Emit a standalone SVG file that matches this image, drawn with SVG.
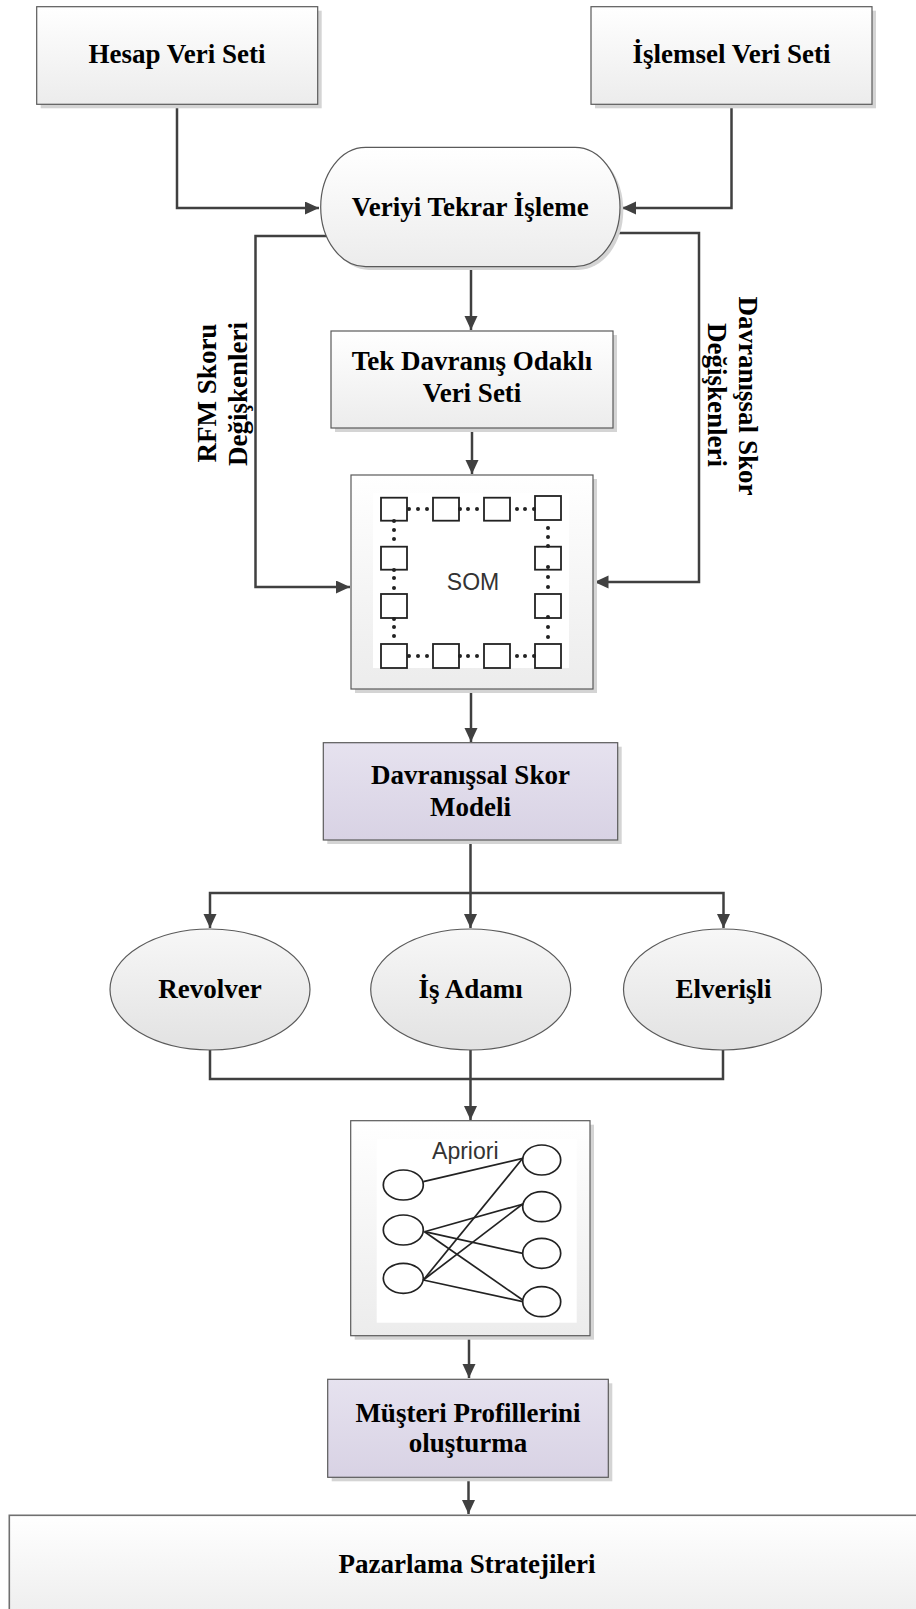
<svg xmlns="http://www.w3.org/2000/svg" width="916" height="1609" viewBox="0 0 916 1609">
<defs>
<linearGradient id="gGrey" x1="0" y1="0" x2="0" y2="1"><stop offset="0" stop-color="#ffffff"/><stop offset="1" stop-color="#ececec"/></linearGradient>
<linearGradient id="gEll" x1="0" y1="0" x2="0" y2="1"><stop offset="0" stop-color="#f7f7f7"/><stop offset="1" stop-color="#e2e2e2"/></linearGradient>
<linearGradient id="gPurple" x1="0" y1="0" x2="0" y2="1"><stop offset="0" stop-color="#e6e2ef"/><stop offset="1" stop-color="#d8d2e4"/></linearGradient>
<marker id="arr" markerWidth="15" markerHeight="14" refX="14" refY="6.5" orient="auto" markerUnits="userSpaceOnUse"><path d="M0,0 L14,6.5 L0,13 z" fill="#404040"/></marker>
<style>
.lbl{font-family:"Liberation Serif","Times New Roman",serif;font-weight:bold;font-size:27px;fill:#000;text-anchor:middle}
.sans{font-family:"Liberation Sans",Arial,sans-serif;font-size:23px;fill:#333;text-anchor:middle}
.box{fill:url(#gGrey);stroke:#5a5a5a;stroke-width:1.2}
.pbox{fill:url(#gPurple);stroke:#5a5a5a;stroke-width:1.2}
.ell{fill:url(#gEll);stroke:#5a5a5a;stroke-width:1.2}
.sh{fill:#d4d4d4}
.con{fill:none;stroke:#404040;stroke-width:2.5}
.sq{fill:none;stroke:#222;stroke-width:1.8}
.dot{fill:#222}
.ln{stroke:#222;stroke-width:1.7;fill:none}
.cir{fill:none;stroke:#222;stroke-width:1.7}
</style>
</defs>

<g id="connectors">
<path class="con" d="M177,104 V208 H319" marker-end="url(#arr)"/>
<path class="con" d="M731.5,104 V208 H622" marker-end="url(#arr)"/>
<path class="con" d="M332,236 H255.5 V587 H350" marker-end="url(#arr)"/>
<path class="con" d="M614,233 H699 V582 H594.5" marker-end="url(#arr)"/>
<path class="con" d="M471,267 V330" marker-end="url(#arr)"/>
<path class="con" d="M472,428 V474" marker-end="url(#arr)"/>
<path class="con" d="M471,689 V742" marker-end="url(#arr)"/>
<path class="con" d="M470.5,840 V928" marker-end="url(#arr)"/>
<path class="con" d="M470.5,893 H210 V928" marker-end="url(#arr)"/>
<path class="con" d="M470.5,893 H723.5 V928" marker-end="url(#arr)"/>
<path class="con" d="M210,1050 V1079 H723 V1050"/>
<path class="con" d="M470.5,1050 V1120" marker-end="url(#arr)"/>
<path class="con" d="M469,1336 V1378" marker-end="url(#arr)"/>
<path class="con" d="M468.5,1477 V1514" marker-end="url(#arr)"/>
</g>

<g id="hesap">
<rect class="sh" x="40.7" y="10.7" width="281" height="97.6"/>
<rect class="box" x="36.7" y="6.7" width="281" height="97.6"/>
<text class="lbl" x="177" y="63.3">Hesap Veri Seti</text>
</g>

<g id="islemsel">
<rect class="sh" x="595" y="10.7" width="281" height="97.6"/>
<rect class="box" x="591" y="6.7" width="281" height="97.6"/>
<text class="lbl" x="731.5" y="63.3">İşlemsel Veri Seti</text>
</g>

<g id="veriyi">
<rect class="sh" x="324" y="150.5" width="299.3" height="119.4" rx="45" ry="59.7"/>
<rect class="box" x="320.7" y="147.3" width="299.3" height="119.4" rx="45" ry="59.7"/>
<text class="lbl" x="470.3" y="216">Veriyi Tekrar İşleme</text>
</g>

<g id="rfm-label">
<text class="lbl" transform="translate(216,393) rotate(-90)">RFM Skoru</text>
<text class="lbl" transform="translate(247,394) rotate(-90)">Değişkenleri</text>
</g>

<g id="davranissal-label">
<text class="lbl" transform="translate(739,396) rotate(90)">Davranışsal Skor</text>
<text class="lbl" transform="translate(708,395) rotate(90)">Değişkenleri</text>
</g>

<g id="tek">
<rect class="sh" x="335" y="335" width="282" height="97"/>
<rect class="box" x="331" y="331" width="282" height="97"/>
<text class="lbl" x="472" y="370">Tek Davranış Odaklı</text>
<text class="lbl" x="472" y="402">Veri Seti</text>
</g>

<g id="som">
<rect class="sh" x="355" y="479" width="242" height="214"/>
<rect class="box" x="351" y="475" width="242" height="214"/>
<rect x="373" y="493" width="196" height="175" fill="#ffffff"/>
<rect class="sq" x="381" y="497.7" width="26" height="23"/>
<rect class="sq" x="433" y="497.7" width="26" height="23"/>
<rect class="sq" x="484" y="497.7" width="26" height="23"/>
<rect class="sq" x="535" y="496" width="26" height="24"/>
<rect class="sq" x="381" y="546.7" width="26" height="23"/>
<rect class="sq" x="535" y="546.7" width="26" height="23"/>
<rect class="sq" x="381" y="594" width="26" height="24"/>
<rect class="sq" x="535" y="594" width="26" height="24"/>
<rect class="sq" x="381" y="644" width="26" height="24"/>
<rect class="sq" x="433" y="644" width="26" height="24"/>
<rect class="sq" x="484" y="644" width="26" height="24"/>
<rect class="sq" x="535" y="644" width="26" height="24"/>
<g class="dot">
<circle cx="409" cy="509" r="2"/><circle cx="418" cy="509" r="2"/><circle cx="427" cy="509" r="2"/>
<circle cx="460" cy="509" r="2"/><circle cx="468" cy="509" r="2"/><circle cx="477" cy="509" r="2"/>
<circle cx="517" cy="509" r="2"/><circle cx="525" cy="509" r="2"/><circle cx="534" cy="509" r="2"/>
<circle cx="409" cy="656" r="2"/><circle cx="418" cy="656" r="2"/><circle cx="427" cy="656" r="2"/>
<circle cx="460" cy="656" r="2"/><circle cx="468" cy="656" r="2"/><circle cx="477" cy="656" r="2"/>
<circle cx="517" cy="656" r="2"/><circle cx="525" cy="656" r="2"/><circle cx="534" cy="656" r="2"/>
<circle cx="394" cy="521" r="2"/><circle cx="394" cy="530" r="2"/><circle cx="394" cy="539" r="2"/>
<circle cx="394" cy="570" r="2"/><circle cx="394" cy="578" r="2"/><circle cx="394" cy="588" r="2"/>
<circle cx="394" cy="619" r="2"/><circle cx="394" cy="627" r="2"/><circle cx="394" cy="636" r="2"/>
<circle cx="548" cy="528" r="2"/><circle cx="548" cy="537" r="2"/><circle cx="548" cy="546" r="2"/>
<circle cx="548" cy="567" r="2"/><circle cx="548" cy="577" r="2"/><circle cx="548" cy="587" r="2"/>
<circle cx="548" cy="617" r="2"/><circle cx="548" cy="627" r="2"/><circle cx="548" cy="637" r="2"/>
</g>
<text class="sans" x="473" y="590">SOM</text>
</g>

<g id="davranissal-skor">
<rect class="sh" x="327.3" y="746.7" width="294.4" height="97.3"/>
<rect class="pbox" x="323.3" y="742.7" width="294.4" height="97.3"/>
<text class="lbl" x="470.5" y="784">Davranışsal Skor</text>
<text class="lbl" x="470.5" y="816">Modeli</text>
</g>

<g id="revolver">
<ellipse class="ell" cx="210" cy="989.5" rx="100" ry="60.5"/>
<text class="lbl" x="210" y="998">Revolver</text>
</g>

<g id="is-adami">
<ellipse class="ell" cx="470.7" cy="989.5" rx="100" ry="60.5"/>
<text class="lbl" x="470.7" y="998">İş Adamı</text>
</g>

<g id="elverisli">
<ellipse class="ell" cx="722.5" cy="989.5" rx="99" ry="60.5"/>
<text class="lbl" x="723.5" y="998">Elverişli</text>
</g>

<g id="apriori">
<rect class="sh" x="354.7" y="1124.7" width="239.3" height="215"/>
<rect class="box" x="350.7" y="1120.7" width="239.3" height="215"/>
<rect x="376.7" y="1139.3" width="200" height="183.4" fill="#ffffff"/>
<text class="sans" x="465.3" y="1159.3">Apriori</text>
<ellipse class="cir" cx="403.3" cy="1185" rx="20" ry="15"/>
<ellipse class="cir" cx="403.3" cy="1230" rx="20" ry="15"/>
<ellipse class="cir" cx="403.3" cy="1278.3" rx="20" ry="15"/>
<ellipse class="cir" cx="541.7" cy="1160" rx="19" ry="15"/>
<ellipse class="cir" cx="541.7" cy="1206.7" rx="19" ry="15"/>
<ellipse class="cir" cx="541.7" cy="1253.3" rx="19" ry="15"/>
<ellipse class="cir" cx="541.7" cy="1301.7" rx="19" ry="15"/>
<path class="ln" d="M423.3,1181.7 L522.7,1158.3"/>
<path class="ln" d="M424.5,1231.7 L523.3,1204"/>
<path class="ln" d="M424.5,1231.7 L522.7,1253.3"/>
<path class="ln" d="M424.5,1231.7 L522.7,1300"/>
<path class="ln" d="M423.3,1280 L522.7,1158.3"/>
<path class="ln" d="M423.3,1280 L522.7,1204"/>
<path class="ln" d="M423.3,1280 L522.7,1301.7"/>
</g>

<g id="musteri">
<rect class="sh" x="331.7" y="1383.3" width="280.6" height="98"/>
<rect class="pbox" x="327.7" y="1379.3" width="280.6" height="98"/>
<text class="lbl" x="468" y="1421.7">Müşteri Profillerini</text>
<text class="lbl" x="468" y="1451.7">oluşturma</text>
</g>

<g id="pazarlama">
<rect class="box" x="9.3" y="1515.3" width="920" height="110" style="stroke:#707070;stroke-width:1.6"/>
<text class="lbl" x="467" y="1573">Pazarlama Stratejileri</text>
</g>
</svg>
